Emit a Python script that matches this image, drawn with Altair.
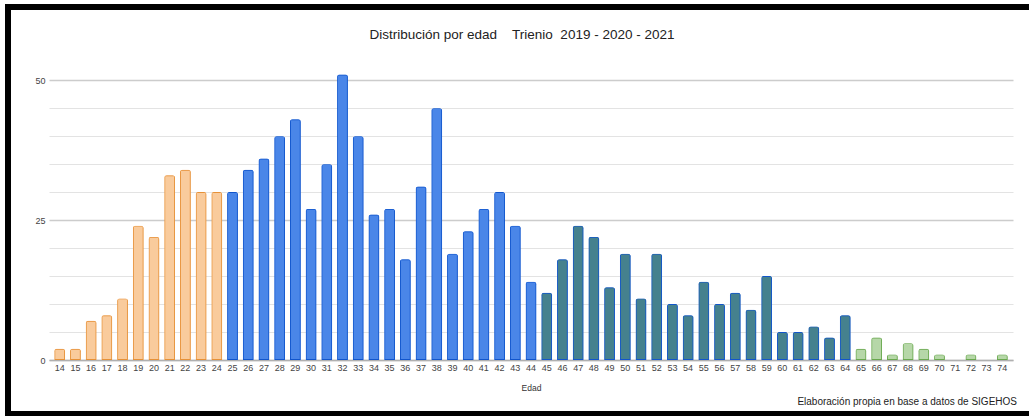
import altair as alt
import pandas as pd

# Age (years) and number of cases per age, trienio 2019-2021
ages = list(range(14, 75))
counts = [
    2, 2, 7, 8, 11, 24, 22, 33, 34, 30, 30,          # 14-24
    30, 34, 36, 40, 43, 27, 35, 51, 40, 26,          # 25-34
    27, 18, 31, 45, 19, 23, 27, 30, 24, 14,          # 35-44
    12, 18, 24, 22, 13, 19, 11, 19, 10, 8,           # 45-54
    14, 10, 12, 9, 15, 5, 5, 6, 4, 8,                # 55-64
    2, 4, 1, 3, 2, 1, 0, 1, 0, 1,                    # 65-74
]

# Age bands and their first age
group_names = ["14-24", "25-44", "45-64", "65-74"]
group_starts = [14, 25, 45, 65]
group_fill = ["#f9cb9c", "#4a86e8", "#45818e", "#b6d7a8"]
group_stroke = ["#e69138", "#1155cc", "#1155cc", "#6aa84f"]

y_ticks = list(range(0, 51, 5))

title_text = "Distribución por edad\u00a0\u00a0\u00a0\u00a0Trienio\u00a0\u00a02019 - 2020 - 2021"
footer_text = "Elaboración propia en base a datos de SIGEHOS"


def band_of(age):
    name = group_names[0]
    for n, s in zip(group_names, group_starts):
        if age >= s:
            name = n
    return name


df = pd.DataFrame({"Edad": ages, "Casos": counts})
df["Grupo"] = df["Edad"].apply(band_of)

W, H = 964, 291
PAD_L, PAD_T = 49, 69

bars = alt.Chart(df).mark_bar(
    strokeWidth=1.8,
    cornerRadiusTopLeft=2.5,
    cornerRadiusTopRight=2.5,
).encode(
    x=alt.X(
        "Edad:O",
        title="Edad",
        scale=alt.Scale(paddingInner=0.32, paddingOuter=0.34),
        axis=alt.Axis(
            labelAngle=0,
            labelFontSize=9,
            labelColor="#444444",
            labelPadding=3,
            ticks=False,
            domainColor="#b0b0b0",
            domainWidth=1.5,
            titleFontSize=8.5,
            titleFontWeight="normal",
            titleColor="#333333",
            titlePadding=11,
        ),
    ),
    y=alt.Y(
        "Casos:Q",
        title=None,
        scale=alt.Scale(domain=[0, 52], nice=False),
        axis=alt.Axis(
            values=y_ticks,
            labelExpr="datum.value % 25 === 0 ? datum.label : ''",
            labelFontSize=9,
            labelColor="#444444",
            labelPadding=4,
            ticks=False,
            domain=False,
            gridColor={
                "condition": {"test": "datum.value % 25 === 0", "value": "#cccccc"},
                "value": "#e3e3e3",
            },
            gridWidth={
                "condition": {"test": "datum.value % 25 === 0", "value": 1.6},
                "value": 1,
            },
        ),
    ),
    fill=alt.Fill("Grupo:N", scale=alt.Scale(domain=group_names, range=group_fill), legend=None),
    stroke=alt.Stroke("Grupo:N", scale=alt.Scale(domain=group_names, range=group_stroke), legend=None),
)

heading = alt.Chart(pd.DataFrame({"t": [title_text]})).mark_text(
    align="center", baseline="middle", fontSize=13.5, color="#222222"
).encode(
    text="t:N",
    x=alt.value(522 - PAD_L),
    y=alt.value(35 - PAD_T),
)

note = alt.Chart(pd.DataFrame({"t": [footer_text]})).mark_text(
    align="right", baseline="middle", fontSize=10, color="#222222"
).encode(
    text="t:N",
    x=alt.value(968),
    y=alt.value(333),
)

# Black frame around the figure
frame = alt.Chart(pd.DataFrame({"k": [0]})).mark_rect(
    fillOpacity=0, stroke="black", strokeWidth=6
).encode(
    x=alt.value(8 - PAD_L),
    x2=alt.value(1040 - PAD_L),
    y=alt.value(7 - PAD_T),
    y2=alt.value(414 - PAD_T),
)

chart = alt.layer(bars, heading, note, frame).properties(
    width=W,
    height=H,
    autosize=alt.AutoSizeParams(type="none"),
    padding={"left": PAD_L, "top": PAD_T, "right": 1029 - PAD_L - W, "bottom": 416 - PAD_T - H},
    background="white",
).configure(
    font="Liberation Sans",
).configure_view(
    strokeWidth=0,
)

chart.save("out.html", embed_options={"renderer": "svg", "actions": False})
